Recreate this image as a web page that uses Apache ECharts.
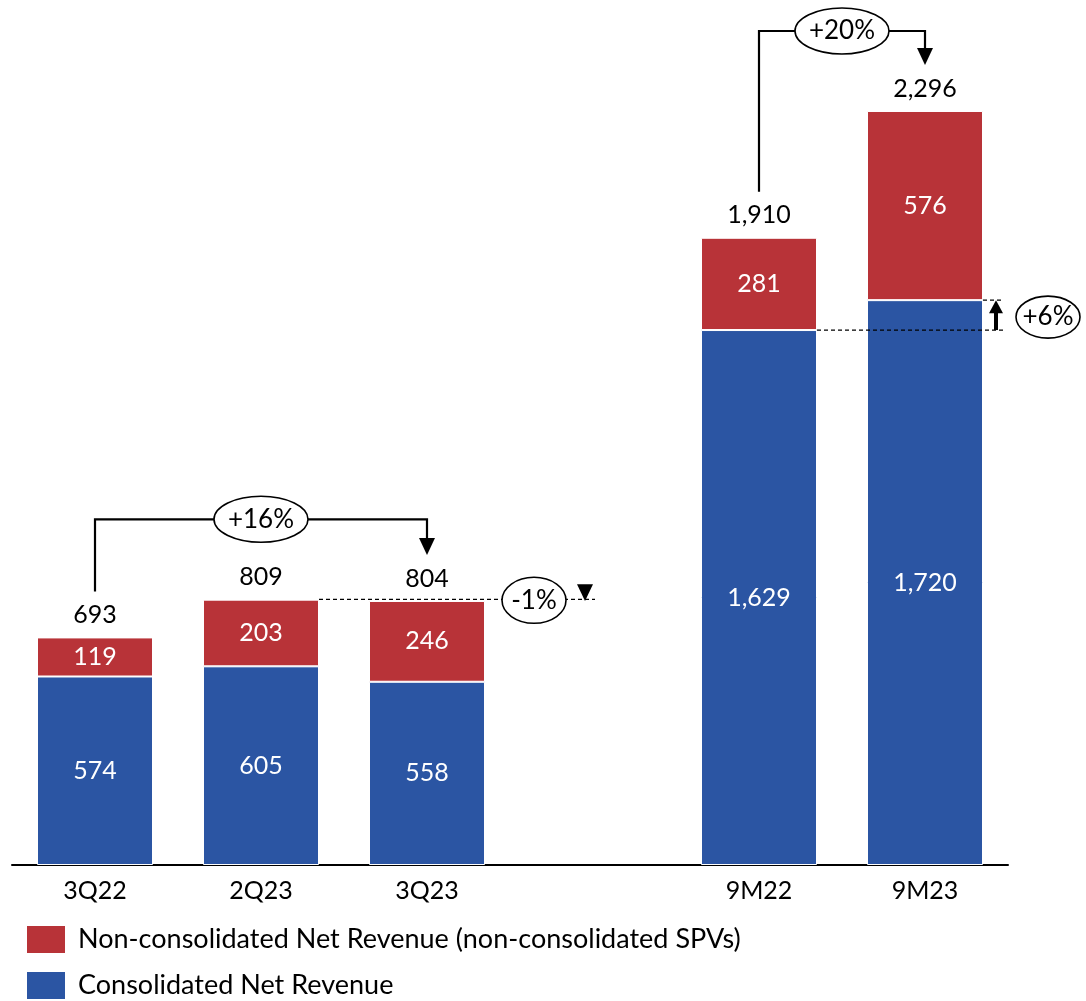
<!DOCTYPE html>
<html>
<head>
<meta charset="utf-8">
<script src="https://cdn.jsdelivr.net/npm/echarts@6/dist/echarts.min.js"></script>
<style>
  html, body { margin: 0; padding: 0; background: #fff; }
  #chart { width: 1086px; height: 1001px; }
</style>
</head>
<body>
<div id="chart"></div>
<script>
// Net revenue by period (the empty slot separates quarters from nine-month totals)
const categories = ['3Q22', '2Q23', '3Q23', '', '9M22', '9M23'];
const consolidated = [574, 605, 558, null, 1629, 1720];
const nonConsolidated = [119, 203, 246, null, 281, 576];
const totals = [693, 809, 804, null, 1910, 2296];

// Growth call-outs
const bracketNotes = [
  { from: 0, to: 2, text: '+16%' },
  { from: 4, to: 5, text: '+20%' }
];
const qoqNote = { from: 1, to: 2, text: '-1%' };
const consolidatedNote = { from: 4, to: 5, text: '+6%' };

const NAME_NON = 'Non-consolidated Net Revenue (non-consolidated SPVs)';
const NAME_CON = 'Consolidated Net Revenue';
const RED = '#B83338';
const BLUE = '#2B55A3';
const FONT = 'Lato, "Open Sans", sans-serif';
const BAR_W = 116;

const legendBase = {
  left: 25,
  orient: 'horizontal',
  padding: 0,
  itemWidth: 40,
  itemHeight: 29,
  icon: 'rect',
  selectedMode: false,
  textStyle: { fontFamily: FONT, fontSize: 27, color: '#000', padding: [0, 0, 0, 7] }
};

const chart = echarts.init(document.getElementById('chart'));

chart.setOption({
  animation: false,
  backgroundColor: '#fff',
  textStyle: { fontFamily: FONT },
  grid: { left: 12, right: 78, top: 44, bottom: 136, containLabel: false },
  legend: [
    Object.assign({}, legendBase, { top: 924, data: [NAME_NON] }),
    Object.assign({}, legendBase, { top: 970, data: [NAME_CON] })
  ],
  xAxis: {
    type: 'category',
    data: categories,
    axisLine: { lineStyle: { color: '#000', width: 2 } },
    axisTick: { show: false },
    axisLabel: { color: '#000', fontSize: 25, margin: 13, fontFamily: FONT }
  },
  yAxis: {
    type: 'value',
    min: 0,
    max: 2500,
    show: false,
    splitLine: { show: false }
  },
  series: [
    {
      name: NAME_CON,
      type: 'bar',
      stack: 'rev',
      barWidth: BAR_W,
      itemStyle: { color: BLUE, borderColor: '#fff', borderWidth: 1 },
      label: {
        show: true, position: 'inside', color: '#fff', fontSize: 25, fontFamily: FONT,
        formatter: p => p.value.toLocaleString('en-US')
      },
      data: consolidated
    },
    {
      name: NAME_NON,
      type: 'bar',
      stack: 'rev',
      barWidth: BAR_W,
      itemStyle: { color: RED, borderColor: '#fff', borderWidth: 1 },
      label: {
        show: true, position: 'inside', color: '#fff', fontSize: 25, fontFamily: FONT,
        formatter: p => p.value.toLocaleString('en-US')
      },
      data: nonConsolidated
    },
    {
      // zero-height cap carrying the total label
      name: 'total',
      type: 'bar',
      stack: 'rev',
      barWidth: BAR_W,
      itemStyle: { color: 'transparent' },
      label: {
        show: true, position: 'top', distance: 10, color: '#000', fontSize: 25, fontFamily: FONT,
        formatter: p => totals[p.dataIndex].toLocaleString('en-US')
      },
      data: totals.map(t => (t == null ? null : 0))
    }
  ]
});

// ---- call-out graphics positioned from the data scale ----
const px = (i, v) => chart.convertToPixel({ gridIndex: 0 }, [i, v]);
const half = BAR_W / 2;
const g = [];
const stroke = '#000';

function ellipseLabel(cx, cy, rx, ry, text) {
  g.push({ type: 'ellipse', z: 20, shape: { cx, cy, rx, ry },
           style: { fill: '#fff', stroke, lineWidth: 1.6 } });
  g.push({ type: 'text', z: 21,
           style: { text, x: cx, y: cy, align: 'center', verticalAlign: 'middle',
                    font: '26px ' + FONT, fill: '#000' } });
}

bracketNotes.forEach(n => {
  const [x0, t0] = px(n.from, totals[n.from]);
  const [x1, t1] = px(n.to, totals[n.to]);
  let hi = Infinity;
  for (let i = n.from; i <= n.to; i++) {
    if (totals[i] != null) hi = Math.min(hi, px(i, totals[i])[1]);
  }
  const yh = hi - 80;
  const start = t0 - 46;
  const tip = t1 - 46;
  g.push({ type: 'polyline', z: 15,
           shape: { points: [[x0, start], [x0, yh], [x1, yh], [x1, tip - 14]] },
           style: { stroke, lineWidth: 2.2, fill: null } });
  g.push({ type: 'polygon', z: 15,
           shape: { points: [[x1 - 8, tip - 17], [x1 + 8, tip - 17], [x1, tip]] },
           style: { fill: '#000' } });
  ellipseLabel((x0 + x1) / 2, yh, 47, 23, n.text);
});

// quarter-on-quarter change
(function () {
  const [xa, ya] = px(qoqNote.from, totals[qoqNote.from]);
  const [xb, yb] = px(qoqNote.to, totals[qoqNote.to]);
  const right = xb + half;
  g.push({ type: 'line', z: 15,
           shape: { x1: xa + half, y1: ya, x2: right + 110, y2: ya },
           style: { stroke, lineWidth: 1.2, lineDash: [4, 3] } });
  const ax = right + 100;
  g.push({ type: 'polygon', z: 15,
           shape: { points: [[ax - 8, ya - 15], [ax + 8, ya - 15], [ax, yb]] },
           style: { fill: '#000' } });
  ellipseLabel(right + 49, ya + 1, 32, 23, qoqNote.text);
})();

// consolidated nine-month change
(function () {
  const [xa, ya] = px(consolidatedNote.from, consolidated[consolidatedNote.from]);
  const [xb, yb] = px(consolidatedNote.to, consolidated[consolidatedNote.to]);
  const right = xb + half;
  g.push({ type: 'line', z: 15,
           shape: { x1: xa + half, y1: ya, x2: right + 21, y2: ya },
           style: { stroke, lineWidth: 1.2, lineDash: [4, 3] } });
  g.push({ type: 'line', z: 15,
           shape: { x1: right, y1: yb, x2: right + 21, y2: yb },
           style: { stroke, lineWidth: 1.2, lineDash: [4, 3] } });
  const ax = right + 13;
  g.push({ type: 'line', z: 15,
           shape: { x1: ax, y1: ya, x2: ax, y2: yb + 10 },
           style: { stroke, lineWidth: 4 } });
  g.push({ type: 'polygon', z: 15,
           shape: { points: [[ax - 7, yb + 13], [ax + 7, yb + 13], [ax, yb]] },
           style: { fill: '#000' } });
  ellipseLabel(right + 65, (ya + yb) / 2 + 2, 32, 21, consolidatedNote.text);
})();

chart.setOption({ graphic: g });
</script>
</body>
</html>
